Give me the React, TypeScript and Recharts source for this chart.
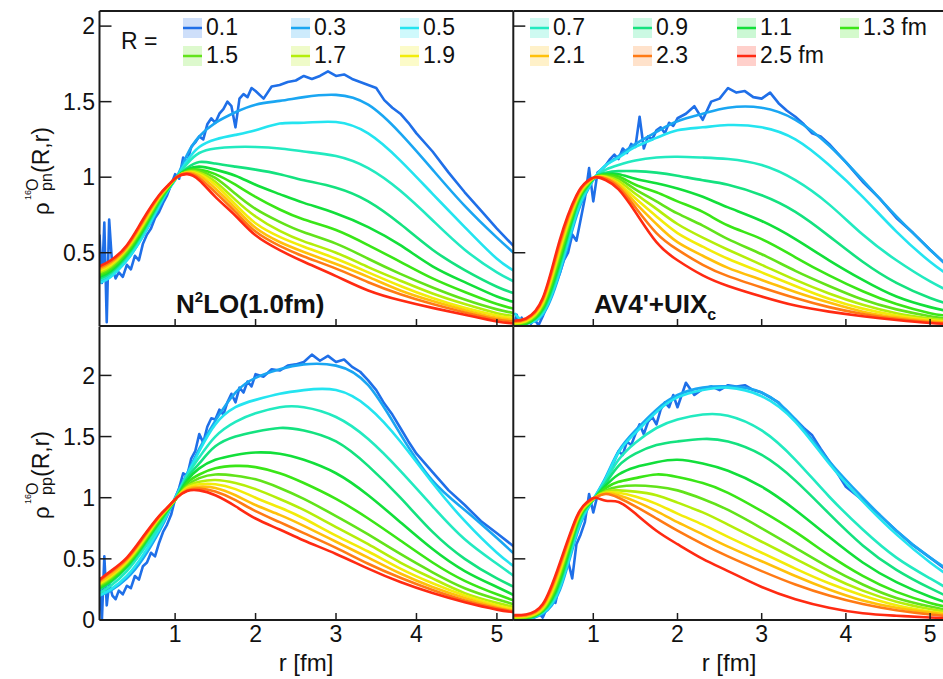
import { Line, LineChart, ReferenceLine, XAxis, YAxis } from "recharts";

// R values of the pair separation, one curve per value
const R_VALUES = [0.1, 0.3, 0.5, 0.7, 0.9, 1.1, 1.3, 1.5, 1.7, 1.9, 2.1, 2.3, 2.5];
const R_COLORS = [
  "#1f6fe8", "#1aa6f2", "#24e4f0", "#22eac0", "#14e27f", "#12df3a", "#3ae617",
  "#62e31a", "#b4ee0a", "#f2ec0a", "#ffc00a", "#ff7a14", "#ff2a12",
];
const X_TICKS = [1, 2, 3, 4, 5];
const Y_TICKS_TOP = [0.5, 1, 1.5, 2];
const Y_TICKS_BOTTOM = [0, 0.5, 1, 1.5, 2];

// r grid of the smooth curves (R = 0.3 .. 2.5)
const R_GRID = [0.06, 0.2, 0.4, 0.6, 0.8, 0.92, 1.02, 1.15, 1.3, 1.5, 1.75, 2.0, 2.3, 2.6, 3.0, 3.4, 3.8, 4.2, 4.6, 5.0, 5.25];

// finer r grid of the noisy R = 0.1 curve
const R_FINE = [
  0.06, 0.09, 0.12, 0.15, 0.18, 0.22, 0.26,
  0.3, 0.35, 0.4, 0.45, 0.5, 0.55, 0.6, 0.65, 0.7, 0.75,
  0.8, 0.85, 0.9, 0.95, 1.0, 1.05, 1.1, 1.15, 1.2, 1.25,
  1.3, 1.35, 1.4, 1.45, 1.5, 1.55, 1.6, 1.65, 1.7, 1.75,
  1.8, 1.85, 1.9, 1.95, 2.0,
  2.1, 2.2, 2.3, 2.4, 2.5, 2.6, 2.7, 2.8, 2.9, 3.0,
  3.1, 3.2, 3.3, 3.4, 3.5, 3.6, 3.7, 3.8, 3.9, 4.0,
  4.2, 4.4, 4.6, 4.8, 5.0, 5.25,
];

// rho_pn, N2LO(1.0fm)
const pnN2loR01 = [
  0.62, 0.30, 0.70, 0.04, 0.72, 0.40, 0.33,
  0.37, 0.34, 0.42, 0.39, 0.48, 0.45, 0.56, 0.62, 0.66, 0.73,
  0.77, 0.83, 0.88, 0.95, 1.02, 0.99, 1.13, 1.10, 1.20, 1.23,
  1.27, 1.25, 1.35, 1.39, 1.36, 1.42, 1.45, 1.50, 1.47, 1.33,
  1.52, 1.55, 1.53, 1.59, 1.57,
  1.52, 1.60, 1.61, 1.63, 1.64, 1.67, 1.65, 1.67, 1.70, 1.67,
  1.68, 1.65, 1.63, 1.61, 1.59, 1.51, 1.46, 1.42, 1.36, 1.29,
  1.17, 1.03, 0.90, 0.78, 0.66, 0.52,
];
const pnN2lo = [
  [0.32, 0.35, 0.45, 0.61, 0.80, 0.92, 1.0, 1.15, 1.27, 1.36, 1.43, 1.48, 1.505, 1.53, 1.545, 1.48, 1.29, 1.05, 0.81, 0.60, 0.48],
  [0.30, 0.34, 0.45, 0.61, 0.81, 0.92, 1.0, 1.11, 1.20, 1.25, 1.28, 1.31, 1.355, 1.36, 1.365, 1.29, 1.11, 0.89, 0.67, 0.46, 0.37],
  [0.32, 0.36, 0.47, 0.63, 0.82, 0.925, 1.0, 1.09, 1.16, 1.19, 1.20, 1.20, 1.19, 1.17, 1.14, 1.06, 0.91, 0.715, 0.52, 0.37, 0.30],
  [0.33, 0.37, 0.48, 0.64, 0.83, 0.93, 1.0, 1.06, 1.10, 1.09, 1.07, 1.05, 1.02, 0.98, 0.93, 0.84, 0.69, 0.52, 0.385, 0.275, 0.225],
  [0.34, 0.38, 0.49, 0.65, 0.84, 0.93, 1.0, 1.05, 1.07, 1.05, 1.01, 0.95, 0.888, 0.83, 0.76, 0.67, 0.55, 0.41, 0.305, 0.21, 0.17],
  [0.35, 0.39, 0.50, 0.66, 0.845, 0.935, 1.0, 1.045, 1.05, 1.02, 0.95, 0.87, 0.786, 0.72, 0.65, 0.55, 0.44, 0.33, 0.24, 0.16, 0.125],
  [0.36, 0.40, 0.51, 0.67, 0.85, 0.94, 1.0, 1.04, 1.04, 0.995, 0.89, 0.79, 0.704, 0.635, 0.56, 0.46, 0.36, 0.27, 0.19, 0.125, 0.097],
  [0.37, 0.41, 0.52, 0.68, 0.86, 0.94, 1.0, 1.035, 1.03, 0.97, 0.85, 0.74, 0.644, 0.575, 0.50, 0.405, 0.315, 0.23, 0.16, 0.10, 0.078],
  [0.38, 0.42, 0.53, 0.69, 0.865, 0.945, 1.0, 1.032, 1.02, 0.95, 0.82, 0.695, 0.605, 0.54, 0.46, 0.37, 0.28, 0.20, 0.135, 0.085, 0.063],
  [0.39, 0.43, 0.535, 0.70, 0.87, 0.945, 1.0, 1.03, 1.01, 0.925, 0.795, 0.665, 0.571, 0.505, 0.425, 0.34, 0.25, 0.18, 0.12, 0.07, 0.052],
  [0.40, 0.44, 0.54, 0.71, 0.875, 0.95, 1.0, 1.025, 0.995, 0.90, 0.77, 0.64, 0.545, 0.475, 0.395, 0.305, 0.225, 0.16, 0.105, 0.058, 0.042],
  [0.41, 0.45, 0.55, 0.72, 0.88, 0.95, 1.0, 1.02, 0.98, 0.87, 0.745, 0.615, 0.517, 0.44, 0.345, 0.25, 0.185, 0.135, 0.09, 0.045, 0.031],
];

// rho_pn, AV4'+UIXc
const pnAv4R01 = [
  0.02, 0.09, 0.02, 0.07, 0.0, 0.06, 0.03,
  0.06, 0.02, 0.08, 0.15, 0.22, 0.29, 0.36, 0.45, 0.50, 0.62,
  0.58, 0.72, 0.86, 1.06, 0.84, 1.03, 1.05, 1.08, 1.12, 1.15,
  1.12, 1.19, 1.16, 1.22, 1.20, 1.40, 1.19, 1.27, 1.25, 1.31,
  1.33, 1.29, 1.36, 1.34, 1.39,
  1.42, 1.47, 1.38, 1.50, 1.52, 1.59, 1.56, 1.57, 1.53, 1.52,
  1.56, 1.49, 1.44, 1.40, 1.35, 1.29, 1.27, 1.22, 1.16, 1.10,
  0.97, 0.86, 0.73, 0.63, 0.52, 0.39,
];
const pnAv4 = [
  [0.03, 0.03, 0.09, 0.36, 0.74, 0.90, 1.0, 1.08, 1.14, 1.22, 1.30, 1.37, 1.42, 1.46, 1.46, 1.38, 1.21, 0.98, 0.74, 0.52, 0.39],
  [0.10, 0.04, 0.10, 0.38, 0.76, 0.91, 1.0, 1.08, 1.13, 1.20, 1.26, 1.31, 1.33, 1.345, 1.33, 1.25, 1.08, 0.87, 0.64, 0.44, 0.34],
  [0.02, 0.03, 0.11, 0.40, 0.78, 0.92, 1.0, 1.05, 1.08, 1.11, 1.13, 1.135, 1.13, 1.12, 1.08, 0.98, 0.82, 0.62, 0.45, 0.31, 0.24],
  [0.02, 0.03, 0.12, 0.42, 0.80, 0.93, 1.0, 1.03, 1.04, 1.04, 1.03, 1.01, 0.98, 0.95, 0.88, 0.77, 0.61, 0.44, 0.30, 0.20, 0.155],
  [0.02, 0.03, 0.13, 0.44, 0.81, 0.935, 1.0, 1.02, 1.02, 0.99, 0.96, 0.925, 0.87, 0.80, 0.71, 0.59, 0.45, 0.32, 0.21, 0.14, 0.11],
  [0.025, 0.035, 0.14, 0.46, 0.82, 0.94, 1.0, 1.015, 1.005, 0.95, 0.90, 0.84, 0.77, 0.68, 0.59, 0.47, 0.35, 0.245, 0.16, 0.10, 0.08],
  [0.03, 0.04, 0.15, 0.48, 0.83, 0.945, 1.0, 1.01, 0.99, 0.92, 0.84, 0.76, 0.68, 0.59, 0.49, 0.38, 0.28, 0.19, 0.125, 0.08, 0.06],
  [0.03, 0.045, 0.16, 0.50, 0.84, 0.95, 1.0, 1.005, 0.975, 0.89, 0.79, 0.69, 0.60, 0.52, 0.42, 0.32, 0.23, 0.155, 0.10, 0.065, 0.05],
  [0.035, 0.05, 0.17, 0.52, 0.85, 0.955, 1.0, 1.0, 0.96, 0.86, 0.74, 0.63, 0.54, 0.46, 0.37, 0.28, 0.195, 0.13, 0.085, 0.055, 0.042],
  [0.04, 0.055, 0.18, 0.54, 0.86, 0.96, 1.0, 0.995, 0.95, 0.83, 0.69, 0.57, 0.48, 0.40, 0.32, 0.24, 0.17, 0.11, 0.072, 0.047, 0.036],
  [0.045, 0.06, 0.19, 0.56, 0.87, 0.965, 1.0, 0.99, 0.935, 0.80, 0.63, 0.52, 0.42, 0.345, 0.27, 0.20, 0.14, 0.095, 0.062, 0.04, 0.031],
  [0.05, 0.065, 0.20, 0.58, 0.88, 0.97, 1.0, 0.98, 0.92, 0.77, 0.57, 0.45, 0.35, 0.28, 0.21, 0.15, 0.11, 0.08, 0.055, 0.035, 0.028],
];

// rho_pp, N2LO(1.0fm)
const ppN2loR01 = [
  0.35, 0.0, 0.52, 0.12, 0.30, 0.20, 0.17,
  0.24, 0.21, 0.28, 0.26, 0.36, 0.33, 0.44, 0.47, 0.55, 0.52,
  0.63, 0.72, 0.78, 0.86, 0.99, 1.08, 1.20, 1.18, 1.32, 1.38,
  1.52, 1.45, 1.58, 1.65, 1.64, 1.72, 1.68, 1.78, 1.85, 1.78,
  1.90, 1.86, 1.95, 1.91, 2.01,
  1.99, 2.05, 2.04, 2.08, 2.09, 2.11, 2.17, 2.12, 2.16, 2.11,
  2.13, 2.07, 2.03, 1.96, 1.88, 1.77, 1.68, 1.57, 1.46, 1.36,
  1.21, 1.06, 0.94, 0.81, 0.71, 0.58,
];
const ppN2lo = [
  [0.20, 0.24, 0.34, 0.50, 0.72, 0.88, 1.03, 1.20, 1.40, 1.63, 1.86, 1.98, 2.05, 2.09, 2.08, 1.92, 1.52, 1.14, 0.90, 0.67, 0.52],
  [0.20, 0.25, 0.36, 0.53, 0.74, 0.89, 1.02, 1.19, 1.38, 1.60, 1.74, 1.80, 1.85, 1.88, 1.88, 1.74, 1.46, 1.12, 0.81, 0.55, 0.42],
  [0.22, 0.28, 0.40, 0.57, 0.76, 0.90, 1.01, 1.18, 1.33, 1.50, 1.62, 1.69, 1.74, 1.74, 1.66, 1.48, 1.22, 0.93, 0.66, 0.46, 0.34],
  [0.25, 0.31, 0.43, 0.60, 0.79, 0.905, 1.0, 1.16, 1.28, 1.42, 1.50, 1.54, 1.57, 1.55, 1.46, 1.26, 1.00, 0.72, 0.50, 0.34, 0.26],
  [0.26, 0.32, 0.44, 0.61, 0.80, 0.91, 1.0, 1.14, 1.24, 1.31, 1.35, 1.37, 1.36, 1.31, 1.20, 1.02, 0.80, 0.58, 0.40, 0.27, 0.19],
  [0.27, 0.33, 0.45, 0.62, 0.81, 0.915, 1.0, 1.12, 1.19, 1.24, 1.26, 1.25, 1.20, 1.12, 0.99, 0.83, 0.65, 0.47, 0.32, 0.21, 0.15],
  [0.28, 0.34, 0.46, 0.63, 0.82, 0.92, 1.0, 1.10, 1.16, 1.19, 1.18, 1.15, 1.08, 0.99, 0.85, 0.70, 0.54, 0.39, 0.26, 0.17, 0.12],
  [0.29, 0.35, 0.47, 0.64, 0.83, 0.92, 1.0, 1.09, 1.13, 1.145, 1.12, 1.07, 0.99, 0.90, 0.76, 0.62, 0.47, 0.34, 0.22, 0.14, 0.10],
  [0.30, 0.36, 0.48, 0.65, 0.835, 0.925, 1.0, 1.08, 1.11, 1.11, 1.07, 1.0, 0.92, 0.83, 0.69, 0.56, 0.42, 0.30, 0.20, 0.12, 0.085],
  [0.31, 0.37, 0.49, 0.66, 0.84, 0.925, 1.0, 1.07, 1.09, 1.08, 1.02, 0.94, 0.86, 0.77, 0.64, 0.51, 0.38, 0.27, 0.18, 0.105, 0.072],
  [0.32, 0.39, 0.50, 0.67, 0.845, 0.93, 1.0, 1.06, 1.075, 1.05, 0.98, 0.89, 0.80, 0.71, 0.59, 0.46, 0.345, 0.245, 0.16, 0.095, 0.065],
  [0.33, 0.40, 0.51, 0.68, 0.85, 0.93, 1.0, 1.055, 1.06, 1.02, 0.93, 0.83, 0.74, 0.65, 0.54, 0.42, 0.31, 0.22, 0.145, 0.085, 0.06],
];

// rho_pp, AV4'+UIXc
const ppAv4R01 = [
  0.01, 0.0, 0.02, 0.0, 0.02, 0.0, 0.03,
  0.02, 0.06, 0.02, 0.10, 0.16, 0.14, 0.30, 0.40, 0.48, 0.34,
  0.62, 0.70, 0.80, 1.03, 0.88, 1.02, 1.08, 1.16, 1.22, 1.30,
  1.38, 1.35, 1.46, 1.43, 1.52, 1.60, 1.52, 1.62, 1.66, 1.60,
  1.72, 1.78, 1.74, 1.84, 1.74,
  1.94, 1.84, 1.89, 1.91, 1.88, 1.92, 1.91, 1.92, 1.88, 1.86,
  1.82, 1.78, 1.70, 1.64, 1.57, 1.51, 1.40, 1.30, 1.20, 1.09,
  0.98, 0.86, 0.73, 0.61, 0.51, 0.38,
];
const ppAv4 = [
  [0.0, 0.005, 0.05, 0.24, 0.69, 0.89, 1.01, 1.17, 1.38, 1.55, 1.72, 1.84, 1.90, 1.91, 1.86, 1.64, 1.30, 1.0, 0.73, 0.51, 0.40],
  [0.0, 0.01, 0.06, 0.26, 0.71, 0.90, 1.01, 1.16, 1.37, 1.53, 1.70, 1.82, 1.88, 1.90, 1.83, 1.62, 1.28, 0.97, 0.70, 0.47, 0.35],
  [0.005, 0.01, 0.065, 0.28, 0.73, 0.91, 1.0, 1.14, 1.31, 1.45, 1.57, 1.64, 1.68, 1.67, 1.55, 1.31, 1.01, 0.74, 0.51, 0.34, 0.24],
  [0.005, 0.01, 0.07, 0.30, 0.75, 0.92, 1.0, 1.12, 1.26, 1.36, 1.43, 1.46, 1.48, 1.46, 1.35, 1.14, 0.87, 0.61, 0.41, 0.26, 0.18],
  [0.01, 0.015, 0.075, 0.32, 0.77, 0.925, 1.0, 1.10, 1.19, 1.25, 1.29, 1.31, 1.28, 1.22, 1.09, 0.90, 0.68, 0.47, 0.31, 0.19, 0.13],
  [0.01, 0.02, 0.08, 0.34, 0.78, 0.93, 1.0, 1.08, 1.13, 1.16, 1.19, 1.17, 1.12, 1.04, 0.89, 0.72, 0.53, 0.36, 0.23, 0.14, 0.10],
  [0.015, 0.02, 0.085, 0.36, 0.79, 0.935, 1.0, 1.06, 1.09, 1.10, 1.09, 1.06, 0.99, 0.90, 0.75, 0.59, 0.43, 0.29, 0.18, 0.11, 0.075],
  [0.02, 0.025, 0.09, 0.38, 0.80, 0.94, 1.0, 1.05, 1.06, 1.05, 1.02, 0.96, 0.88, 0.78, 0.64, 0.50, 0.36, 0.24, 0.15, 0.09, 0.06],
  [0.025, 0.03, 0.10, 0.40, 0.81, 0.945, 1.0, 1.04, 1.04, 1.01, 0.95, 0.87, 0.78, 0.68, 0.55, 0.42, 0.30, 0.20, 0.12, 0.07, 0.05],
  [0.03, 0.035, 0.11, 0.42, 0.82, 0.95, 1.0, 1.035, 1.02, 0.97, 0.89, 0.80, 0.70, 0.60, 0.48, 0.36, 0.25, 0.16, 0.10, 0.06, 0.04],
  [0.035, 0.04, 0.12, 0.44, 0.83, 0.955, 1.0, 1.03, 1.0, 0.93, 0.83, 0.73, 0.62, 0.52, 0.40, 0.29, 0.20, 0.13, 0.08, 0.045, 0.03],
  [0.04, 0.045, 0.13, 0.46, 0.84, 0.96, 1.0, 0.975, 0.965, 0.87, 0.73, 0.62, 0.50, 0.40, 0.27, 0.17, 0.10, 0.055, 0.035, 0.02, 0.015],
];

const AXIS = "#1b1b1b";
const FONT = "'Liberation Sans', Arial, Helvetica, sans-serif";

type Margin = { top: number; right: number; bottom: number; left: number };

type PanelProps = {
  r01: number[];
  rows: number[][];
  width: number;
  margin: Margin;
  xDomain: [number, number];
  yDomain: [number, number];
  yTicks: number[];
  xLabels: boolean;
  yLabels: boolean;
  topBorder: boolean;
};

function Panel({ r01, rows, width, margin, xDomain, yDomain, yTicks, xLabels, yLabels, topBorder }: PanelProps) {
  const series = [
    { id: "R0.1", color: R_COLORS[0], noisy: true, data: R_FINE.map((r, i) => ({ r, v: r01[i] })) },
    ...rows.map((row, k) => ({
      id: `R${R_VALUES[k + 1]}`,
      color: R_COLORS[k + 1],
      noisy: false,
      data: R_GRID.map((r, i) => ({ r, v: row[i] })),
    })),
  ];
  const blank = () => "";
  return (
    <div style={{ position: "absolute", left: 0, top: 0 }}>
      <LineChart width={width} height={679} margin={margin}>
        <XAxis
          type="number"
          dataKey="r"
          domain={xDomain}
          allowDataOverflow
          ticks={X_TICKS}
          interval={0}
          height={40}
          tickSize={-7}
          tickMargin={13}
          tickFormatter={xLabels ? (v) => String(v) : blank}
          tick={{ fontSize: 23, fill: "#111" }}
          axisLine={{ stroke: AXIS, strokeWidth: 2 }}
          tickLine={{ stroke: AXIS, strokeWidth: 1.5 }}
        />
        <YAxis
          type="number"
          domain={yDomain}
          allowDataOverflow
          ticks={yTicks}
          interval={0}
          width={60}
          tickSize={-12}
          tickMargin={16.5}
          tickFormatter={yLabels ? (v) => String(v) : blank}
          tick={{ fontSize: 23, fill: "#111" }}
          axisLine={{ stroke: AXIS, strokeWidth: 2 }}
          tickLine={{ stroke: AXIS, strokeWidth: 1.5 }}
        />
        {topBorder && <ReferenceLine y={yDomain[1]} stroke={AXIS} strokeWidth={2} />}
        {series.map((s) => (
          <Line
            key={s.id}
            data={s.data}
            dataKey="v"
            type={s.noisy ? "linear" : "natural"}
            stroke={s.color}
            strokeWidth={2.6}
            strokeLinejoin="round"
            dot={false}
            activeDot={false}
            isAnimationActive={false}
          />
        ))}
      </LineChart>
    </div>
  );
}

// rotated y title: rho^{16O}_{pair}(R,r)
function RhoTitle({ x, y, pair }: { x: number; y: number; pair: string }) {
  return (
    <g transform={`translate(${x},${y}) rotate(-90)`} fill="#111">
      <text x={0} y={0} fontSize={22}>ρ</text>
      <text x={15} y={-18} fontSize={9}>16</text>
      <text x={24} y={-11.5} fontSize={16}>O</text>
      <text x={24} y={2.5} fontSize={16}>{pair}</text>
      <text x={42} y={0} fontSize={23}>(R,r)</text>
    </g>
  );
}

const LEGEND_COLS = [183, 291, 400, 530, 633, 737, 840];
const LEGEND_ROWS = [28, 56];

function Legend() {
  return (
    <g>
      <text x={121} y={49} fontSize={23} fill="#111">R =</text>
      {R_VALUES.map((R, i) => {
        const col = LEGEND_COLS[i < 7 ? i : i - 7];
        const cy = LEGEND_ROWS[i < 7 ? 0 : 1];
        const label = R === 1.3 || R === 2.5 ? `${R.toFixed(1)} fm` : R.toFixed(1);
        return (
          <g key={R}>
            <rect x={col} y={cy - 10} width={19} height={20} fill={R_COLORS[i]} fillOpacity={0.22} />
            <line x1={col} x2={col + 19} y1={cy} y2={cy} stroke={R_COLORS[i]} strokeWidth={2.5} />
            <text x={col + 23} y={cy + 7} fontSize={23} fill="#111">{label}</text>
          </g>
        );
      })}
    </g>
  );
}

export default function App() {
  const topM = { top: 11, bottom: 313 };
  const botM = { top: 326.5, bottom: 19 };
  return (
    <div
      style={{
        position: "absolute",
        left: 0,
        top: 0,
        width: 943,
        height: 679,
        overflow: "hidden",
        background: "#fff",
        fontFamily: FONT,
      }}
    >
      <Panel r01={pnN2loR01} rows={pnN2lo} width={943} margin={{ ...topM, left: 39.5, right: 430 }}
        xDomain={[0.06, 5.2]} yDomain={[0.015, 2.1]} yTicks={Y_TICKS_TOP} xLabels={false} yLabels topBorder />
      <Panel r01={pnAv4R01} rows={pnAv4} width={945} margin={{ ...topM, left: 453.3, right: 0 }}
        xDomain={[0.05, 5.177]} yDomain={[0.015, 2.1]} yTicks={Y_TICKS_TOP} xLabels={false} yLabels={false} topBorder />
      <Panel r01={ppN2loR01} rows={ppN2lo} width={943} margin={{ ...botM, left: 39.5, right: 430 }}
        xDomain={[0.06, 5.2]} yDomain={[0, 2.4]} yTicks={Y_TICKS_BOTTOM} xLabels yLabels topBorder={false} />
      <Panel r01={ppAv4R01} rows={ppAv4} width={945} margin={{ ...botM, left: 453.3, right: 0 }}
        xDomain={[0.05, 5.177]} yDomain={[0, 2.4]} yTicks={Y_TICKS_BOTTOM} xLabels yLabels={false} topBorder={false} />

      <svg width={943} height={679} style={{ position: "absolute", left: 0, top: 0, pointerEvents: "none" }}>
        <Legend />
        <RhoTitle x={49} y={215} pair="pn" />
        <RhoTitle x={49} y={519} pair="pp" />
        <text x={176} y={313} fontSize={26} fontWeight="bold" fill="#111">
          N<tspan fontSize={15} dy={-11}>2</tspan>
          <tspan fontSize={26} dy={11}>LO(1.0fm)</tspan>
        </text>
        <text x={594} y={313} fontSize={26} fontWeight="bold" fill="#111">
          AV4'+UIX<tspan fontSize={16} dy={7}>c</tspan>
        </text>
        <text x={306} y={671} fontSize={24} textAnchor="middle" fill="#111">r [fm]</text>
        <text x={729} y={671} fontSize={24} textAnchor="middle" fill="#111">r [fm]</text>
      </svg>
    </div>
  );
}
